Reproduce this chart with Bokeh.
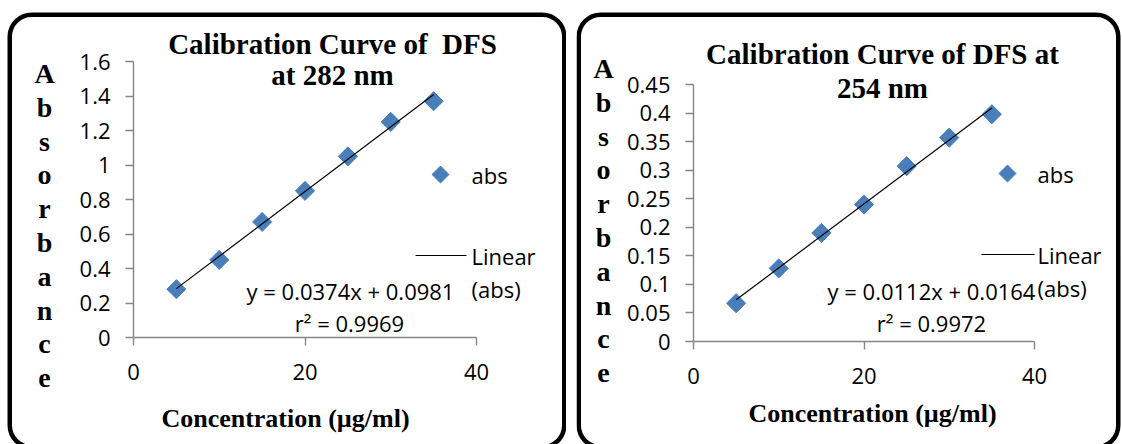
import numpy as np
from bokeh.plotting import figure
from bokeh.layouts import row
from bokeh.models import (Label, Range1d, FixedTicker, NumeralTickFormatter,
                          BoxAnnotation)
from bokeh.embed import file_html
from bokeh.resources import INLINE

# ---------------- data ----------------
concentration = [5, 10, 15, 20, 25, 30, 35]
abs_282nm = [0.28, 0.45, 0.67, 0.85, 1.05, 1.25, 1.37]
abs_254nm = [0.067, 0.128, 0.19, 0.24, 0.307, 0.357, 0.398]

x_ticks = [0, 20, 40]
y_ticks_282 = [0, 0.2, 0.4, 0.6, 0.8, 1.0, 1.2, 1.4, 1.6]
y_ticks_254 = [0, 0.05, 0.1, 0.15, 0.2, 0.25, 0.3, 0.35, 0.4, 0.45]

titles_282 = ["Calibration Curve of \u00a0DFS", "at 282 nm"]
titles_254 = ["Calibration Curve of DFS at", "254 nm"]
equation_282 = "y = 0.0374x + 0.0981"
r2_282 = "r\u00b2 = 0.9969"
equation_254 = "y = 0.0112x + 0.0164"
r2_254 = "r\u00b2 = 0.9972"
series_name = "abs"
fit_name = "Linear"
fit_name_cont = "(abs)"
x_label = "Concentration (\u00b5g/ml)"
y_label = "Absorbance"

SERIF = "Liberation Serif"
SANS = "Open Sans"
BLUE = "#4a7ebb"
AXIS_GREY = "#868686"

# ---------------- layout (page pixel positions) ----------------
# canvas = whole figure; the axes sit inside it at fixed locations
left_geo = dict(
    canvas=(0, 0), width=566, height=444,
    axes=(133, 476, 61, 337),            # x=0, x=xmax, y=ymax, y=0 (page px)
    xmax=40, ymax=1.6,
    box=(7, 566, 12, 449),
    title_pos=[(332, 43), (332, 74)],
    ylab_x=44, ylab_y0=73, ylab_dy=33.8,
    xlab_pos=(285, 418),
    key_marker=(440, 174), key_line=(415, 466, 255),
    text_x=471, abs_y=174, lin_y=255, cont_y=288,
    eq_pos=(350, 290), r2_pos=(349, 322),
)
right_geo = dict(
    canvas=(576, 0), width=546, height=444,
    axes=(693, 1034, 84, 341),
    xmax=40, ymax=0.45,
    box=(576, 1120, 12, 449),
    title_pos=[(882, 53), (882, 87)],
    ylab_x=603, ylab_y0=68, ylab_dy=33.8,
    xlab_pos=(872, 413),
    key_marker=(1007, 173), key_line=(981, 1034, 254),
    text_x=1037, abs_y=173, lin_y=254, cont_y=287,
    eq_pos=(931, 290), r2_pos=(931, 322),
)


def to_data(geo, sx, sy):
    ax0, ax1, ay1, ay0 = geo["axes"]
    x = (sx - ax0) / (ax1 - ax0) * geo["xmax"]
    y = (ay0 - sy) / (ay0 - ay1) * geo["ymax"]
    return x, y


def add_text(p, geo, sx, sy, text, font, size, bold=False, align="center"):
    x, y = to_data(geo, sx, sy)
    p.add_layout(Label(x=x, y=y, text=text, text_font=font,
                       text_font_size=f"{size}px",
                       text_font_style="bold" if bold else "normal",
                       text_align=align, text_baseline="middle",
                       text_color="black"))


def make_chart(geo, values, y_ticks, titles, eq, r2):
    cx, cy = geo["canvas"]
    w, h = geo["width"], geo["height"]
    x_start, y_end = to_data(geo, cx, cy)
    x_end, y_start = to_data(geo, cx + w, cy + h)
    p = figure(width=w, height=h,
               x_range=Range1d(x_start, x_end), y_range=Range1d(y_start, y_end),
               output_backend="svg", toolbar_location=None,
               min_border=0, min_border_left=0, min_border_right=0,
               min_border_top=0, min_border_bottom=0)
    p.title.visible = False
    p.background_fill_color = None
    p.border_fill_color = None
    p.outline_line_color = None
    p.grid.visible = False

    for ax in (p.xaxis[0], p.yaxis[0]):
        ax.fixed_location = 0
        ax.axis_line_color = AXIS_GREY
        ax.axis_line_width = 1.4
        ax.major_tick_line_color = AXIS_GREY
        ax.major_tick_line_width = 1.4
        ax.major_tick_out = 8
        ax.major_tick_in = 0
        ax.minor_tick_line_color = None
        ax.major_label_text_font = SANS
        ax.major_label_text_font_size = "22px"
        ax.major_label_text_color = "black"
    p.xaxis.bounds = (0, geo["xmax"])
    p.yaxis.bounds = (0, geo["ymax"])
    p.xaxis.ticker = FixedTicker(ticks=x_ticks)
    p.yaxis.ticker = FixedTicker(ticks=y_ticks)
    p.yaxis.formatter = NumeralTickFormatter(format="0.[00]")
    p.xaxis.major_label_standoff = 18
    p.yaxis.major_label_standoff = 15

    # rounded frame around each chart
    bl, br, bt, bb = geo["box"]
    lw = 4.5
    bx0, by0 = to_data(geo, bl + lw / 2, bt + lw / 2)
    bx1, by1 = to_data(geo, br - lw / 2, bb - lw / 2)
    box = BoxAnnotation(left=bx0, right=bx1, top=by0, bottom=by1,
                        fill_color=None, fill_alpha=0,
                        line_color="black", line_alpha=1.0, line_width=lw,
                        level="underlay")
    try:
        box.border_radius = 22
    except Exception:
        pass
    p.add_layout(box)

    # data
    p.scatter(concentration, values, marker="square", angle=np.pi / 4,
              size=13.5, fill_color=BLUE, line_color=BLUE, line_width=1)
    coef = np.polyfit(concentration, values, 1)
    xs = np.array([min(concentration), max(concentration)], dtype=float)
    p.line(xs, np.polyval(coef, xs), line_color="black", line_width=1.2)

    # legend (drawn as key marks + text, laid out like the reference)
    mx, my = to_data(geo, *geo["key_marker"])
    p.scatter([mx], [my], marker="square", angle=np.pi / 4, size=12,
              fill_color=BLUE, line_color=BLUE)
    l0, l1, ly = geo["key_line"]
    kx0, ky = to_data(geo, l0, ly)
    kx1, _ = to_data(geo, l1, ly)
    p.segment(x0=[kx0], y0=[ky], x1=[kx1], y1=[ky], line_color="black",
              line_width=1.2)
    add_text(p, geo, geo["text_x"], geo["abs_y"], series_name, SANS, 22, align="left")
    add_text(p, geo, geo["text_x"], geo["lin_y"], fit_name, SANS, 22, align="left")
    add_text(p, geo, geo["text_x"], geo["cont_y"], fit_name_cont, SANS, 22, align="left")

    # titles
    for (sx, sy), t in zip(geo["title_pos"], titles):
        add_text(p, geo, sx, sy, t, SERIF, 29, bold=True)
    # vertical stacked y label
    for i, ch in enumerate(y_label):
        add_text(p, geo, geo["ylab_x"], geo["ylab_y0"] + i * geo["ylab_dy"],
                 ch, SERIF, 28, bold=True)
    # x label
    add_text(p, geo, *geo["xlab_pos"], x_label, SERIF, 26, bold=True)
    # equation
    add_text(p, geo, *geo["eq_pos"], eq, SANS, 22)
    add_text(p, geo, *geo["r2_pos"], r2, SANS, 22)
    return p


p1 = make_chart(left_geo, abs_282nm, y_ticks_282, titles_282, equation_282, r2_282)
p2 = make_chart(right_geo, abs_254nm, y_ticks_254, titles_254, equation_254, r2_254)

layout = row(p1, p2, spacing=10)

with open("out.html", "w") as f:
    f.write(file_html(layout, INLINE, "Calibration curves"))
